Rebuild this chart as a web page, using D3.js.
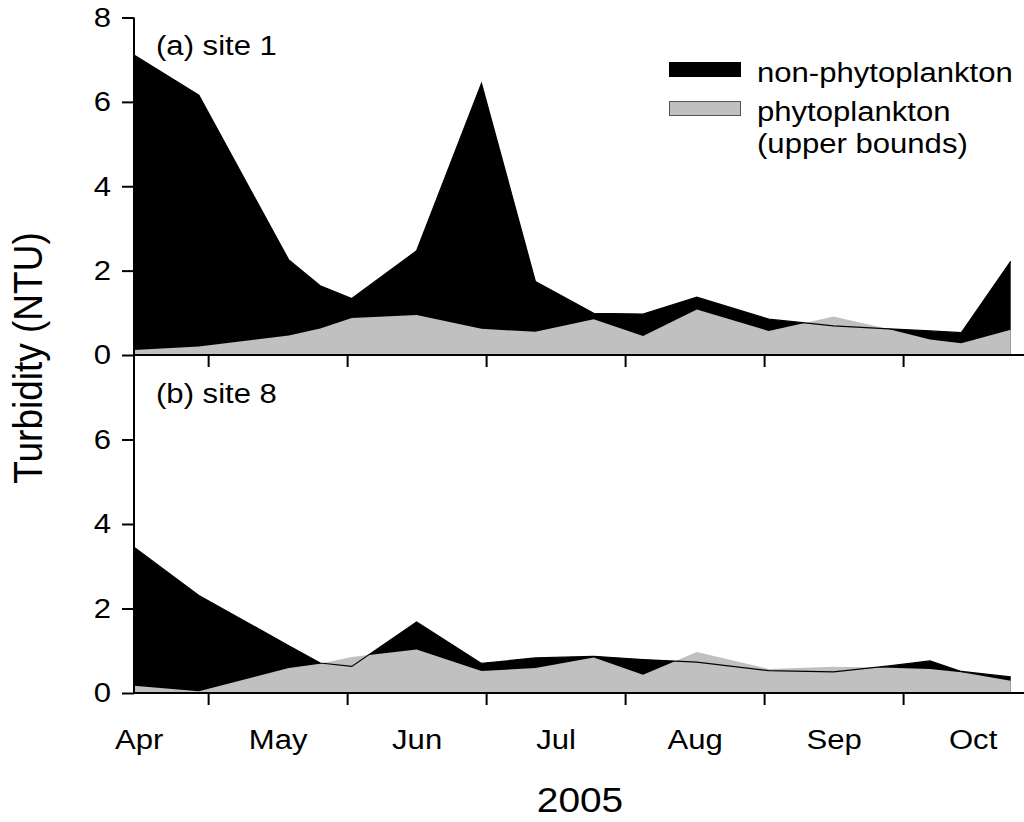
<!DOCTYPE html>
<html>
<head>
<meta charset="utf-8">
<script src="https://cdn.jsdelivr.net/npm/d3@7"></script>
<style>
  html, body { margin: 0; padding: 0; background: #fff; }
  svg { display: block; }
  text { font-family: "Liberation Sans", Arial, sans-serif; fill: #000; }
</style>
</head>
<body>
<svg id="chart" width="1024" height="822"></svg>
<script>
// Sampling dates, 2005
const sampleDates = [
  "2005-04-15", "2005-04-29", "2005-05-19", "2005-05-26", "2005-06-02",
  "2005-06-16", "2005-06-30", "2005-07-12", "2005-07-25", "2005-08-05",
  "2005-08-17", "2005-09-02", "2005-09-16", "2005-09-28", "2005-10-07",
  "2005-10-14", "2005-10-25"
];

// Site 1: total turbidity and phytoplankton upper bound (NTU)
const site1Total = [7.11, 6.16, 2.25, 1.64, 1.34, 2.47, 6.44, 1.74, 0.99, 0.97,
                    1.37, 0.85, 0.69, 0.62, 0.57, 0.53, 2.22];
const site1Phyto = [0.12, 0.20, 0.46, 0.63, 0.88, 0.95, 0.62, 0.55, 0.85, 0.45,
                    1.08, 0.57, 0.91, 0.61, 0.37, 0.28, 0.60];

// Site 8
const site8Total = [3.45, 2.31, 1.12, 0.71, 0.63, 1.68, 0.70, 0.83, 0.87, 0.79,
                    0.73, 0.53, 0.50, 0.64, 0.76, 0.51, 0.38];
const site8Phyto = [0.17, 0.04, 0.59, 0.69, 0.85, 1.03, 0.52, 0.59, 0.84, 0.43,
                    0.97, 0.57, 0.62, 0.60, 0.57, 0.49, 0.29];

const monthLabels = ["Apr", "May", "Jun", "Jul", "Aug", "Sep", "Oct"];
const monthStart = 4;               // April
const yTicksTop = [0, 2, 4, 6, 8];
const yTicksBottom = [0, 2, 4, 6];

const panels = [
  { label: "(a) site 1", total: site1Total, phyto: site1Phyto, ticks: yTicksTop },
  { label: "(b) site 8", total: site8Total, phyto: site8Phyto, ticks: yTicksBottom }
];

// Month axis: each month occupies one equal-width unit
const parseDate = d3.timeParse("%Y-%m-%d");
function monthPos(str) {
  const d = parseDate(str);
  const days = new Date(d.getFullYear(), d.getMonth() + 1, 0).getDate();
  return (d.getMonth() + 1) + (d.getDate() - 1) / days;
}
const xs = sampleDates.map(monthPos);

const W = 1024;
const left = 134, plotRight = 1010.7;
const panelTop = [17.5, 355], panelBottom = [355, 693];
const SX = 1.11;          // horizontal widening of the lettering
const FS = 28;            // body text size

const svg = d3.select("#chart");
const x = d3.scaleLinear().domain([xs[0], xs[xs.length - 1]]).range([left, plotRight]);

const boundaries = d3.range(monthStart + 1, monthStart + monthLabels.length);
const centers = monthLabels.map((m, i) => monthStart + i + 0.5);

function label(parent, px, py, str, size, anchor) {
  return parent.append("text")
    .attr("transform", `translate(${px},${py}) scale(${SX},1)`)
    .attr("text-anchor", anchor || "start")
    .style("font-size", size + "px")
    .text(str);
}

panels.forEach((p, i) => {
  const y = d3.scaleLinear().domain([0, 8]).range([panelBottom[i], panelTop[i]]);
  const g = svg.append("g");
  const rows = xs.map((xv, k) => ({ x: xv, t: p.total[k], f: p.phyto[k] }));

  // non-phytoplankton: total turbidity filled black
  g.append("path").datum(rows)
    .attr("d", d3.area().x(d => x(d.x)).y0(y(0)).y1(d => y(d.t)))
    .attr("fill", "#000");

  // phytoplankton upper bound in grey
  g.append("path").datum(rows)
    .attr("d", d3.area().x(d => x(d.x)).y0(y(0)).y1(d => y(d.f)))
    .attr("fill", "#c0c0c0");

  // total outline on top
  g.append("path").datum(rows)
    .attr("d", d3.line().x(d => x(d.x)).y(d => y(d.t)))
    .attr("fill", "none").attr("stroke", "#000").attr("stroke-width", 1.2);

  // y axis
  const ya = g.append("g").attr("transform", `translate(${left},0)`)
    .call(d3.axisLeft(y).tickValues(p.ticks).tickFormat(d3.format("d")).tickSizeInner(12).tickSizeOuter(0).tickPadding(13));
  ya.select(".domain").remove();
  ya.selectAll(".tick line").attr("stroke", "#000").attr("stroke-width", 2);
  ya.selectAll(".tick text")
    .attr("font-family", null)
    .style("font-size", FS + "px")
    .attr("x", -23 / SX)
    .attr("transform", `scale(${SX},1)`);

  // x axis with ticks at month boundaries
  const xa = g.append("g").attr("transform", `translate(0,${panelBottom[i]})`)
    .call(d3.axisBottom(x).tickValues(boundaries).tickFormat("").tickSizeInner(12).tickSizeOuter(0));
  xa.select(".domain").remove();
  xa.selectAll(".tick line").attr("stroke", "#000").attr("stroke-width", 2);
  g.append("line")
    .attr("x1", left).attr("x2", W)
    .attr("y1", panelBottom[i]).attr("y2", panelBottom[i])
    .attr("stroke", "#000").attr("stroke-width", 2);

  // panel label
  label(g, 156, i === 0 ? 55 : 403, p.label, FS);
});

// y axis line spanning both panels
svg.append("line")
  .attr("x1", left).attr("x2", left)
  .attr("y1", panelTop[0]).attr("y2", panelBottom[1])
  .attr("stroke", "#000").attr("stroke-width", 2);

// month names centred in each month
const ml = svg.append("g").attr("transform", `translate(0,${panelBottom[1]})`)
  .call(d3.axisBottom(x).tickValues(centers).tickFormat((d, i) => monthLabels[i]).tickSize(0).tickPadding(36));
ml.select(".domain").remove();
ml.selectAll(".tick text")
  .attr("font-family", null)
  .style("font-size", FS + "px")
  .attr("transform", `scale(${SX},1)`);

// axis titles
label(svg, 580, 812, "2005", 35, "middle");

svg.append("text")
  .attr("transform", `translate(42,358) scale(${SX},1) rotate(-90)`)
  .attr("text-anchor", "middle")
  .style("font-size", "37px")
  .text("Turbidity (NTU)");

// legend
const legend = svg.append("g");
const legendItems = [
  { fill: "#000", stroke: "#000", lines: ["non-phytoplankton"], y: 62 },
  { fill: "#c0c0c0", stroke: "#555", lines: ["phytoplankton", "(upper bounds)"], y: 101 }
];
legendItems.forEach(it => {
  legend.append("rect")
    .attr("x", 669.5).attr("y", it.y + 0.5)
    .attr("width", 71).attr("height", 14)
    .attr("fill", it.fill).attr("stroke", it.stroke).attr("stroke-width", 1);
  it.lines.forEach((ln, j) => {
    label(legend, 757, it.y + 20 + j * 32, ln, FS);
  });
});
</script>
</body>
</html>
